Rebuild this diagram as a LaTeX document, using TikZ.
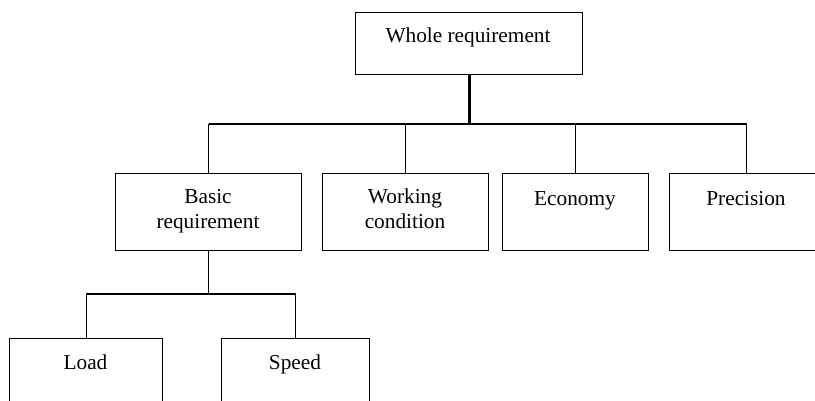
\documentclass[tikz,border=0pt]{standalone}
\usepackage{fontspec}
\setmainfont{Liberation Serif}
\begin{document}
\begin{tikzpicture}[x=1pt,y=-1pt,
  box/.style={draw, line width=1.2pt, rectangle, inner sep=0pt, anchor=north west},
  lbl/.style={font=\fontsize{21.3}{25}\selectfont, inner sep=0pt, align=center},
  conn/.style={line width=1.2pt}]
\useasboundingbox (0,0) rectangle (815,401);
\clip (0,0) rectangle (815,401);
% boxes
\node[box, minimum width=227pt, minimum height=62pt] (whole) at (355,12) {};
\node[box, minimum width=186pt, minimum height=77pt] (basic) at (115,173) {};
\node[box, minimum width=166pt, minimum height=77pt] (work) at (322,173) {};
\node[box, minimum width=146pt, minimum height=77pt] (econ) at (502,173) {};
\node[box, minimum width=154pt, minimum height=77pt] (prec) at (669,173) {};
\node[box, minimum width=153pt, minimum height=80pt] (load) at (9,338) {};
\node[box, minimum width=148pt, minimum height=80pt] (speed) at (221,338) {};
% labels
\node[lbl, anchor=base] (wholet) at (468,43) {Whole requirement};
\node[lbl, anchor=north] (basict) at (208,189) {Basic\\requirement};
\node[lbl, anchor=north] (workt) at (405,189) {Working\\condition};
\node[lbl, anchor=base] (econt) at (575,206) {Economy};
\node[lbl, anchor=base] (prect) at (746,206) {Precision};
\node[lbl, anchor=base] (loadt) at (85.5,369) {Load};
\node[lbl, anchor=base] (speedt) at (295,369) {Speed};
% connectors
\coordinate (bus1) at (0,124);
\coordinate (bus2) at (0,294);
\draw[line width=3pt] (whole.south) -- (whole.south |- bus1);
\draw[conn] (basic.north |- bus1) -- (prec.north |- bus1);
\draw[line width=1.8pt] (work.north |- bus1) -- (whole.south |- bus1);
\foreach \n in {basic,work,econ,prec}
  \draw[conn] (\n.north |- bus1) -- (\n.north);
\draw[conn] (basic.south) -- (basic.south |- bus2);
\draw[conn] (load.north |- bus2) -- (speed.north |- bus2);
\foreach \n in {load,speed}
  \draw[conn] (\n.north |- bus2) -- (\n.north);
\end{tikzpicture}
\end{document}
